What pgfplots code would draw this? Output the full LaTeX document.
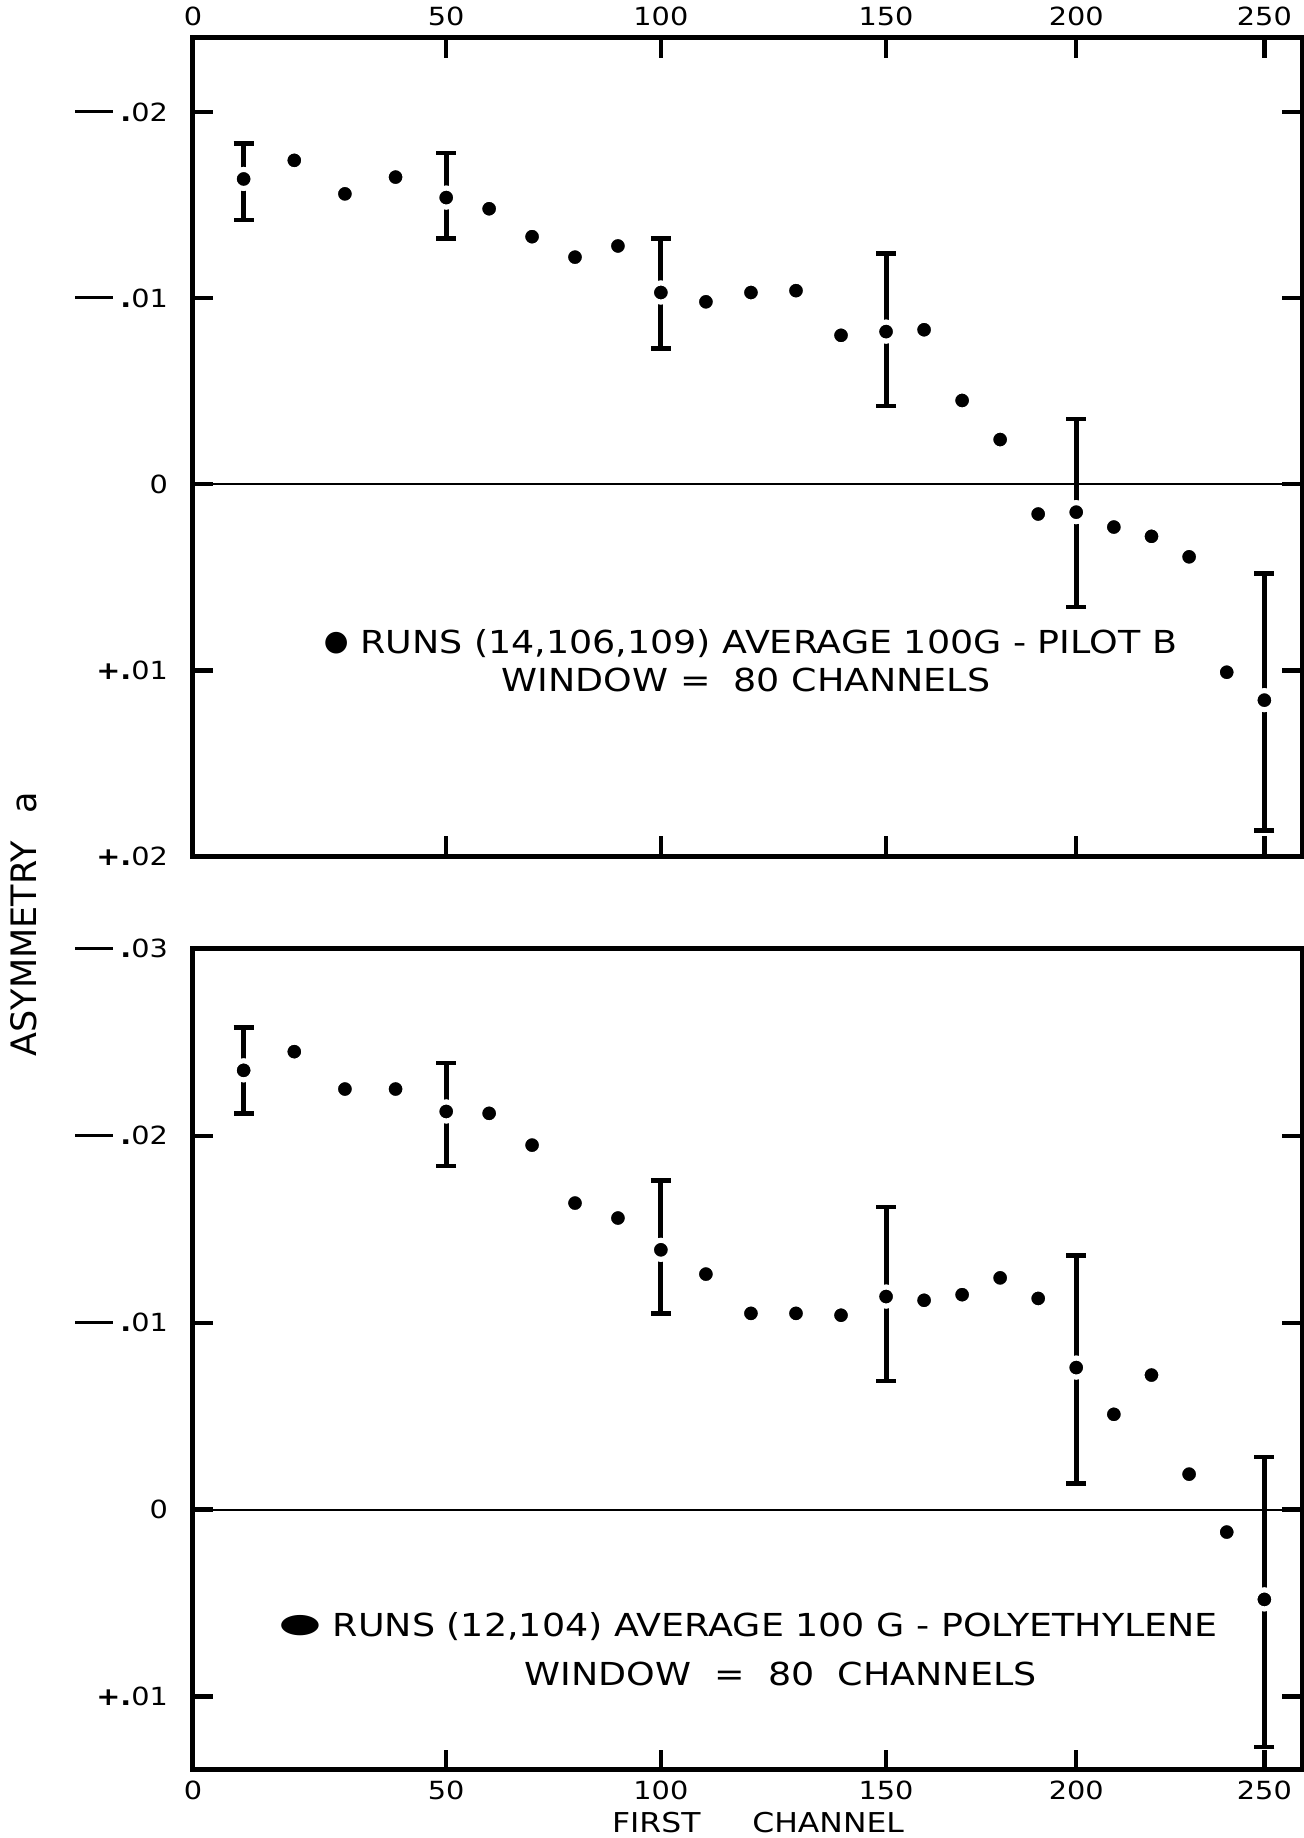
\documentclass[border=0pt]{standalone}
\usepackage{fontspec}
\setmainfont{DejaVu Sans}[FakeStretch=1.15]
\newfontfamily\plainsans{DejaVu Sans}
\usepackage{graphicx}
\usepackage{pgfplots}
\pgfplotsset{compat=1.18}
\usepackage{pgfplotstable}

\pgfplotstableread{
x y
10 -0.0164
20 -0.0174
30 -0.0156
40 -0.0165
50 -0.0154
60 -0.0148
70 -0.0133
80 -0.0122
90 -0.0128
100 -0.0103
110 -0.0098
120 -0.0103
130 -0.0104
140 -0.0080
150 -0.0082
160 -0.0083
170 -0.0045
180 -0.0024
190 0.0016
200 0.0015
210 0.0023
220 0.0028
230 0.0039
240 0.0101
250 0.0116
}\toppts

\pgfplotstableread{
x y ep em
10 -0.0164 0.0022 0.0019
50 -0.0154 0.0022 0.0024
100 -0.0103 0.0030 0.0029
150 -0.0082 0.0040 0.0042
200 0.0015 0.0051 0.0050
250 0.0116 0.0070 0.0068
}\toperr

\pgfplotstableread{
x y
10 -0.0235
20 -0.0245
30 -0.0225
40 -0.0225
50 -0.0213
60 -0.0212
70 -0.0195
80 -0.0164
90 -0.0156
100 -0.0139
110 -0.0126
120 -0.0105
130 -0.0105
140 -0.0104
150 -0.0114
160 -0.0112
170 -0.0115
180 -0.0124
190 -0.0113
200 -0.0076
210 -0.0051
220 -0.0072
230 -0.0019
240 0.0012
250 0.0048
}\botpts

\pgfplotstableread{
x y ep em
10 -0.0235 0.0023 0.0023
50 -0.0213 0.0029 0.0026
100 -0.0139 0.0034 0.0037
150 -0.0114 0.0045 0.0048
200 -0.0076 0.0062 0.0060
250 0.0048 0.0079 0.0076
}\boterr

% hand-drawn, non-uniform channel scale of the original
\newcommand{\chantrafo}[1]{\pgfmathparse{(#1<=50)*(#1*5.06)+and(#1>50,#1<=100)*(253+(#1-50)*4.29)+and(#1>100,#1<=150)*(467.5+(#1-100)*4.5)+and(#1>150,#1<=200)*(692.5+(#1-150)*3.8)+(#1>200)*(882.5+(#1-200)*3.76)}}

\newcommand{\ydash}{\rule[0.31em]{1.5em}{0.12em}\hspace{0.3em}{\bfseries.}}
\newcommand{\ypl}{{\bfseries+}{\bfseries.}}

\pgfplotsset{
  chan/.style={
    scale only axis,
    width=332.7pt,
    xmin=0, xmax=260,
    xtick={0,50,100,150,200,250},
    xticklabels={0,50,100,150,200,250},
    y dir=reverse,
    scaled y ticks=false,
    axis line style={line width=1.5pt},
    tick style={black, line width=1.3pt},
    major tick length=6pt,
    tick label style={font=\fontsize{7.5}{8.5}\selectfont},
    yticklabel style={xshift=-4pt},
    ytick pos=both, yticklabel pos=left,
    clip=false,
  },
  dots/.style={only marks, mark=*, mark size=2.85pt,
    mark options={fill=black, draw=white, line width=1.5pt}},
  ebar/.style={dots,
    error bars/.cd, y dir=both, y explicit,
    error mark=|,
    error bar style={line width=1.5pt, black},
    error mark options={line width=1.3pt, mark size=3pt, black, draw=black}},
}

\begin{document}
\begin{tikzpicture}
% ---------- upper panel ----------
\begin{axis}[chan,
  at={(0pt,273.9pt)}, anchor=south west,
  height=245.7pt,
  x coord trafo/.code={\chantrafo{#1}},
  ymin=-0.0240, ymax=0.02,
  ytick={-0.02,-0.01,0,0.01,0.02},
  yticklabels={\ydash02,\ydash01,0,\ypl01,\ypl02},
  xtick pos=both, xticklabel pos=right,
]
\addplot[line width=0.6pt, black, forget plot] coordinates {(0,0) (260,0)};
\addplot[ebar] table[x=x, y=y, y error plus=ep, y error minus=em] {\toperr};
\addplot[dots] table[x=x, y=y] {\toppts};
\node[font=\fontsize{9.5}{11}\selectfont] at (axis cs:119.9,0.00858)
  {\raisebox{0.12em}{\scalebox{0.87}[1]{\fontsize{8.5}{9}\selectfont ●}} RUNS (14,106,109) AVERAGE 100G - PILOT B};
\node[font=\fontsize{9.5}{11}\selectfont] at (axis cs:118.9,0.01054)
  {WINDOW = \ 80 CHANNELS};
\end{axis}
% ---------- lower panel ----------
\begin{axis}[chan,
  at={(0pt,0pt)}, anchor=south west,
  height=246.2pt,
  x coord trafo/.code={\chantrafo{#1}},
  ymin=-0.03, ymax=0.0139,
  ytick={-0.03,-0.02,-0.01,0,0.01},
  yticklabels={\ydash03,\ydash02,\ydash01,0,\ypl01},
  xtick pos=left, xticklabel pos=left,
]
\addplot[line width=0.6pt, black, forget plot] coordinates {(0,0) (260,0)};
\addplot[ebar] table[x=x, y=y, y error plus=ep, y error minus=em] {\boterr};
\addplot[dots] table[x=x, y=y] {\botpts};
\node[font=\fontsize{9.5}{11}\selectfont] at (axis cs:119.4,0.00623)
  {\raisebox{0.1em}{\scalebox{1.6}[1]{\fontsize{8}{9}\selectfont ●}} RUNS (12,104) AVERAGE 100 G - POLYETHYLENE};
\node[font=\fontsize{9.5}{11}\selectfont] at (axis cs:126.6,0.0088)
  {WINDOW \ = \ 80 \ CHANNELS};
\end{axis}
% ---------- axis titles ----------
\node[rotate=90, font=\plainsans\fontsize{10.5}{11}\selectfont] at (-50.9pt,253.6pt)
  {ASYMMETRY\hspace{0.8em}a};
\node[font=\fontsize{8.2}{9}\selectfont] at (169.5pt,-16pt)
  {FIRST\hspace{1.9em}CHANNEL};
\pgfresetboundingbox
\path[use as bounding box] (-57.9pt,-20.55pt) rectangle (333pt,530.85pt);
\end{tikzpicture}
\end{document}
